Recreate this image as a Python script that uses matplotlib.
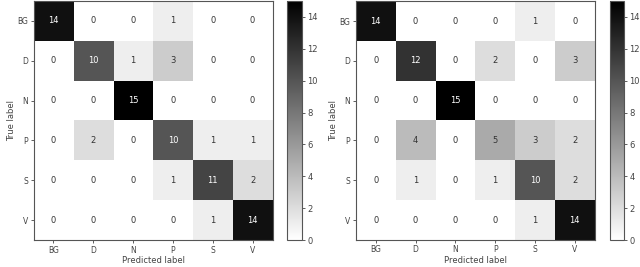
import matplotlib
matplotlib.use("Agg")
import matplotlib.pyplot as plt
import numpy as np

labels = ["BG", "D", "N", "P", "S", "V"]

cm_left = np.array([
    [14, 0, 0, 1, 0, 0],
    [0, 10, 1, 3, 0, 0],
    [0, 0, 15, 0, 0, 0],
    [0, 2, 0, 10, 1, 1],
    [0, 0, 0, 1, 11, 2],
    [0, 0, 0, 0, 1, 14],
])

cm_right = np.array([
    [14, 0, 0, 0, 1, 0],
    [0, 12, 0, 2, 0, 3],
    [0, 0, 15, 0, 0, 0],
    [0, 4, 0, 5, 3, 2],
    [0, 1, 0, 1, 10, 2],
    [0, 0, 0, 0, 1, 14],
])

plt.rcParams['font.size'] = 6


def draw_cm(fig, ax_rect, cb_rect, cm):
    ax = fig.add_axes(ax_rect)
    cax = fig.add_axes(cb_rect)
    im = ax.imshow(cm, cmap='gray_r', vmin=0, vmax=15, interpolation='nearest')
    thresh = 7.5
    for i in range(cm.shape[0]):
        for j in range(cm.shape[1]):
            color = 'white' if cm[i, j] > thresh else '#333333'
            ax.text(j, i, str(cm[i, j]), ha='center', va='center', color=color, fontsize=6)
    ax.set_xticks(range(len(labels)))
    ax.set_xticklabels(labels)
    ax.set_yticks(range(len(labels)))
    ax.set_yticklabels(labels)
    ax.set_xlabel('Predicted label', fontsize=6, color='#444444', labelpad=1)
    ax.set_ylabel('True label', fontsize=6, color='#444444', labelpad=1)
    ax.tick_params(labelsize=5.5, colors='#444444', length=2, pad=2, width=0.6)
    for s in ax.spines.values():
        s.set_color('#555555')
    cb = fig.colorbar(im, cax=cax, ticks=[0, 2, 4, 6, 8, 10, 12, 14])
    cb.ax.tick_params(labelsize=6, colors='#444444', length=2, pad=2, width=0.6)
    cb.outline.set_edgecolor('#555555')
    return ax


fig = plt.figure(figsize=(6.4, 2.67), dpi=100)
draw_cm(fig, [0.0516, 0.101, 0.375, 0.895], [0.448, 0.101, 0.0234, 0.895], cm_left)
draw_cm(fig, [0.556, 0.101, 0.373, 0.895], [0.953, 0.101, 0.022, 0.895], cm_right)

fig.savefig('out.png', dpi=100)
